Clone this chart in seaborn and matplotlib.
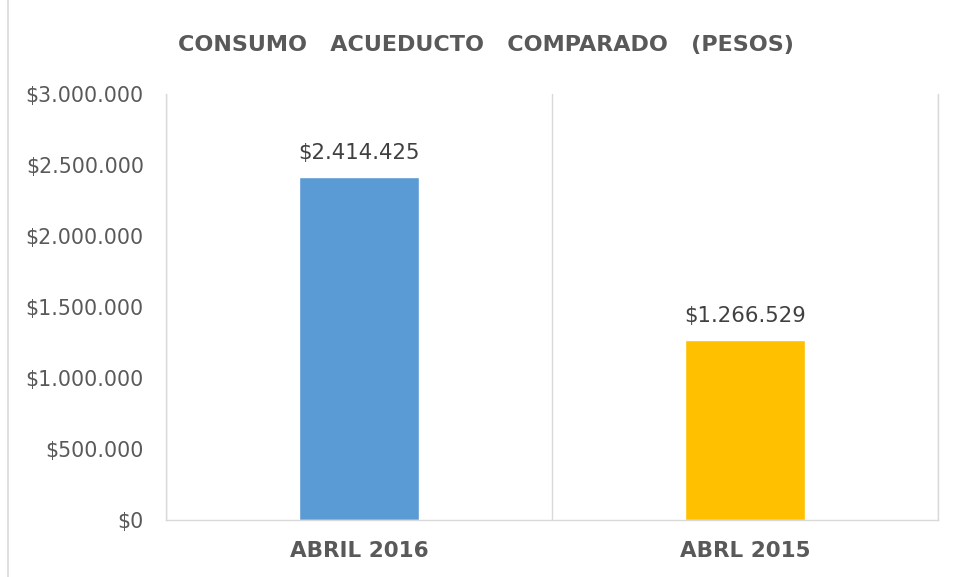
import matplotlib
matplotlib.use("Agg")
import matplotlib.pyplot as plt
from matplotlib.lines import Line2D
from matplotlib.ticker import FuncFormatter, FixedLocator
import seaborn as sns
import pandas as pd

# datos
periodos = ["ABRIL 2016", "ABRL 2015"]
consumo = [2414425, 1266529]
colores = ["#5B9BD5", "#FFC000"]
yticks = [0, 500000, 1000000, 1500000, 2000000, 2500000, 3000000]

df = pd.DataFrame({"periodo": periodos, "consumo": consumo})

sns.set_style("white")
plt.rcParams["font.family"] = ["DejaVu Sans"]


def pesos(v, _=None):
    return "$" + f"{v:,.0f}".replace(",", ".")


fig = plt.figure(figsize=(9.56, 5.77), dpi=100)
ax = fig.add_axes([166 / 956, 1 - 520 / 577, (938 - 166) / 956, (520 - 94) / 577])

sns.barplot(data=df, x="periodo", y="consumo", hue="periodo", palette=colores,
            width=0.31, legend=False, ax=ax, saturation=1)

ax.set_xlim(-0.5, len(periodos) - 0.5)
ax.set_ylim(0, 3000000)
ax.set_yticks(yticks)
ax.yaxis.set_major_formatter(FuncFormatter(pesos))
ax.set_xlabel("")
ax.set_ylabel("")

# separadores de categoría como en Excel
ax.xaxis.set_minor_locator(FixedLocator([i - 0.5 for i in range(len(periodos) + 1)]))
ax.grid(which="minor", axis="x", color="#D9D9D9", linewidth=1)
ax.tick_params(axis="x", which="minor", length=7, color="#D9D9D9", width=1, direction="out")
ax.tick_params(axis="x", which="major", length=0, pad=15)
ax.tick_params(axis="y", length=0, pad=16, labelsize=14.8, labelcolor="#595959")
for lbl in ax.get_xticklabels():
    lbl.set_fontsize(15.5)
    lbl.set_fontweight("bold")
    lbl.set_color("#595959")

ax.spines["top"].set_visible(False)
for side in ["left", "right", "bottom"]:
    ax.spines[side].set_color("#D9D9D9")
    ax.spines[side].set_linewidth(1)

for cont in ax.containers:
    ax.bar_label(cont, labels=[pesos(v) for v in cont.datavalues],
                 padding=10, fontsize=15.3, color="#404040")

fig.text(486 / 956, 1 - 45 / 577, "CONSUMO   ACUEDUCTO   COMPARADO   (PESOS)",
         ha="center", va="center", fontsize=16, fontweight="bold",
         color="#595959")

# borde del gráfico
fig.add_artist(Line2D([8 / 956, 8 / 956], [0, 1], color="#D9D9D9", linewidth=1.2))

fig.savefig("out.png", dpi=100)
